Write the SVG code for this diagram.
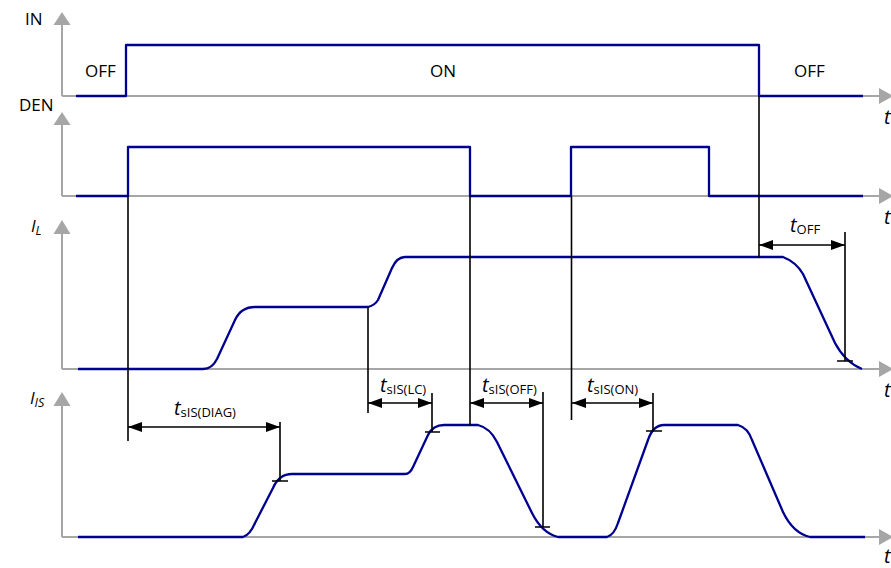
<svg xmlns="http://www.w3.org/2000/svg" width="891" height="568" viewBox="0 0 891 568">
  <style>
    .axis { stroke: #a6a6a6; stroke-width: 2; fill: none; }
    .head { fill: #a6a6a6; }
    .sig { stroke: #000090; stroke-width: 2.3; fill: none; stroke-linejoin: round; }
    .ref { stroke: #000; stroke-width: 1.6; fill: none; }
    .dim { stroke: #000; stroke-width: 1.6; fill: none; marker-start: url(#ah); marker-end: url(#ah); }
    text { font-family: "Open Sans", "Liberation Sans", sans-serif; fill: #000; }
    .lbl { font-size: 17px; }
    .it { font-style: italic; }
    .tv { font-size: 20px; font-style: italic; }
    .sub { font-size: 13px; font-style: normal; }
  </style>
  <defs>
    <marker id="ah" viewBox="0 0 14 10" refX="14" refY="5" markerWidth="14" markerHeight="10" markerUnits="userSpaceOnUse" orient="auto-start-reverse">
      <path d="M0,0 L14,5 L0,10 Z" fill="#000"/>
    </marker>
  </defs>

  <!-- axes -->
  <g id="axes">
    <path class="axis" d="M62,96 V24 M62,96 H880"/>
    <polygon class="head" points="62,12 53.5,25 70.5,25"/>
    <polygon class="head" points="893,96 879,88 879,104"/>
    <path class="axis" d="M62,196 V124 M62,196 H880"/>
    <polygon class="head" points="62,112 53.5,125 70.5,125"/>
    <polygon class="head" points="893,196 879,188 879,204"/>
    <path class="axis" d="M62,369 V233 M62,369 H880"/>
    <polygon class="head" points="62,220 53.5,234 70.5,234"/>
    <polygon class="head" points="893,369 879,361 879,377"/>
    <path class="axis" d="M62,537 V405 M62,537 H880"/>
    <polygon class="head" points="62,392 53.5,406 70.5,406"/>
    <polygon class="head" points="893,537 879,529 879,545"/>
  </g>

  <!-- axis labels -->
  <g id="axis-labels">
    <text class="lbl" x="25" y="25">IN</text>
    <text class="lbl" x="19" y="111">DEN</text>
    <text class="lbl it" x="31" y="232">I<tspan font-size="12.5" dy="3">L</tspan></text>
    <text class="lbl it" x="30" y="404">I<tspan font-size="12.5" dy="3">IS</tspan></text>
    <text class="tv" x="884" y="124">t</text>
    <text class="tv" x="884" y="224">t</text>
    <text class="tv" x="884" y="397">t</text>
    <text class="tv" x="884" y="563">t</text>
  </g>

  <!-- signals -->
  <g id="sig-in">
    <path class="sig" d="M76,96 H126 V45 H759 V96 H863"/>
    <text class="lbl" x="85" y="77">OFF</text>
    <text class="lbl" x="443" y="77" text-anchor="middle">ON</text>
    <text class="lbl" x="794" y="77">OFF</text>
  </g>
  <g id="sig-den">
    <path class="sig" d="M76,196 H128 V147 H470 V196 H571 V147 H709 V196 H863"/>
  </g>
  <g id="sig-il">
    <path class="sig" d="M78,369 H203 Q212,369 217,359 L235,320 Q241,307 255,307 H368 Q375,305 378,300 L392,268 Q397,257 405,257 H783 Q796,262 803,274 L835,343 Q845,362 862,369"/>
  </g>
  <g id="sig-is">
    <path class="sig" d="M78,537 H243 Q250,535 255,523 L273,488 Q279,474 292,474 H405 Q410,474 413,467 L428,435 Q433,425 444,425 H478 Q490,428 497,442 L532,513 Q542,533 558,537 H607 Q614,535 618,523 L648,440 Q653,425 664,425 H738 Q748,428 752,440 L783,512 Q793,533 810,537 H865"/>
  </g>

  <!-- timing references and dimension arrows -->
  <g id="connectors">
    <path class="ref" d="M128,196 V441"/>
    <path class="ref" d="M470,196 V425"/>
    <path class="ref" d="M571.5,196 V420"/>
    <path class="ref" d="M759,96 V258"/>
    <path class="ref" d="M368,307 V413"/>
    <path class="ref" d="M280,422 V481 M272,481 H288"/>
    <path class="ref" d="M432,393 V432 M425,432 H440"/>
    <path class="ref" d="M543,392 V527 M535,527 H550"/>
    <path class="ref" d="M653,393 V431 M646,431 H662"/>
    <path class="ref" d="M845,232 V361 M837,361 H853"/>
    <path class="dim" d="M128,427 H280"/>
    <path class="dim" d="M368,403 H432"/>
    <path class="dim" d="M470,403 H543"/>
    <path class="dim" d="M572,403 H653"/>
    <path class="dim" d="M759,245 H845"/>
  </g>

  <g id="timing-labels">
    <text class="tv" x="174" y="415">t<tspan class="sub" dy="2">sIS(DIAG)</tspan></text>
    <text class="tv" x="380" y="392">t<tspan class="sub" dy="2">sIS(LC)</tspan></text>
    <text class="tv" x="482" y="392">t<tspan class="sub" dy="2">sIS(OFF)</tspan></text>
    <text class="tv" x="587" y="392">t<tspan class="sub" dy="2">sIS(ON)</tspan></text>
    <text class="tv" x="790" y="232">t<tspan class="sub" dy="2">OFF</tspan></text>
  </g>
</svg>
